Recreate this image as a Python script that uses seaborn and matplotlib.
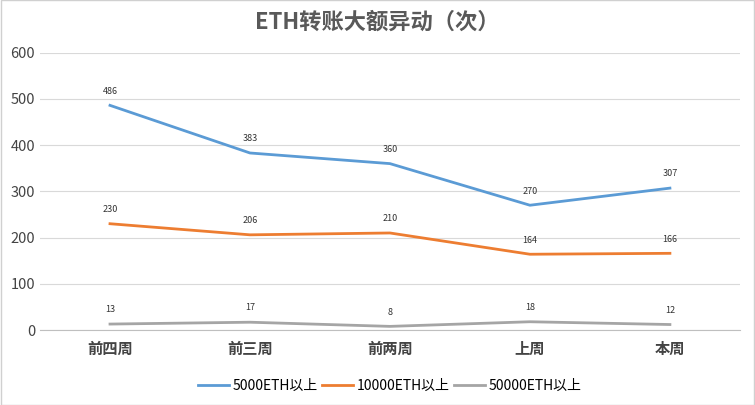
import matplotlib
matplotlib.use("Agg")
import matplotlib.pyplot as plt
import seaborn as sns
import pandas as pd

categories = ["前四周", "前三周", "前两周", "上周", "本周"]
s5000 = [486, 383, 360, 270, 307]
s10000 = [230, 206, 210, 164, 166]
s50000 = [13, 17, 8, 18, 12]
series_names = ["5000ETH以上", "10000ETH以上", "50000ETH以上"]
colors = ["#5b9bd5", "#ed7d31", "#a5a5a5"]

plt.rcParams["font.family"] = "sans-serif"
plt.rcParams["font.sans-serif"] = ["Noto Sans CJK SC", "Noto Sans CJK JP", "Noto Sans CJK TC",
                                   "Noto Sans CJK KR", "DejaVu Sans"]
fig = plt.figure(figsize=(7.55, 4.05), dpi=100)
ax = fig.add_axes([0.053, 0.185, 0.927, 0.685])

rows = []
for name, vals in zip(series_names, [s5000, s10000, s50000]):
    for i, (c, v) in enumerate(zip(categories, vals)):
        rows.append({"cat": c, "x": i, "val": v, "series": name})
df = pd.DataFrame(rows)
sns.lineplot(data=df, x="x", y="val", hue="series", palette=colors, linewidth=2, ax=ax, legend=True)

for name, vals in zip(series_names, [s5000, s10000, s50000]):
    for i, v in enumerate(vals):
        ax.annotate(str(v), (i, v), xytext=(0, 7), textcoords="offset points",
                    ha="center", va="bottom", fontsize=6.5, color="#333333")

ax.set_xlim(-0.5, 4.5)
ax.set_ylim(0, 600)
ax.set_yticks(range(0, 601, 100))
ax.set_xticks(range(5))
ax.set_xticklabels(categories, fontsize=11, fontweight="bold", color="#444444")
ax.tick_params(axis="y", labelsize=10.5, colors="#444444", length=0)
ax.tick_params(axis="x", length=0, pad=8)
ax.grid(axis="y", color="#d9d9d9", linewidth=0.8)
ax.set_axisbelow(True)
for s in ["top", "right", "left"]:
    ax.spines[s].set_visible(False)
ax.spines["bottom"].set_color("#bfbfbf")
ax.set_xlabel("")
ax.set_ylabel("")
ax.legend(loc="upper center", bbox_to_anchor=(0.5, -0.13), ncol=3, frameon=False,
          fontsize=10, handlelength=2.2, columnspacing=0.3, handletextpad=0.3)
fig.text(0.5, 0.945, "ETH转账大额异动（次）", ha="center", va="center",
         fontsize=16, fontweight="bold", color="#595959")
fig.patches.append(plt.Rectangle((0.001, 0.001), 0.998, 0.998, transform=fig.transFigure,
                                 fill=False, edgecolor="#d0d0d0", linewidth=1))
fig.savefig("out.png", dpi=100)
